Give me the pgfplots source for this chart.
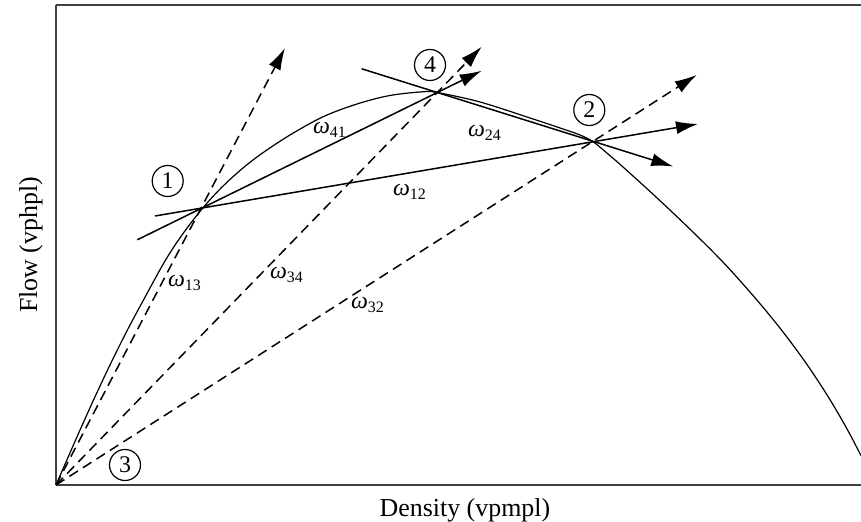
\documentclass[border=0pt]{standalone}
\usepackage{pgfplots}
\usepackage{pgfplotstable}
\pgfplotsset{compat=1.18}
\usetikzlibrary{arrows.meta}
\usepackage{fontspec}
\setmainfont{Liberation Serif}

\pgfplotstableread{
x y
0 0
10 23
24 54.9
39 88.2
55 122.1
72 156.1
90 189.6
109 224
126 250
146 276
165 296.9
185 315.3
205 330.9
234 350
267 368.2
301 381
334 389.5
367 393.2
381 392.5
424 383
474 367
507 356
524 350
537 343.3
552 331
567 318
600 288
634 255.8
668 221.8
700 186
726 154.3
750 121.9
772 88.5
790 57.9
805 29.4
}\curvedata

\tikzset{
  dsh/.style={line width=0.75bp, dash pattern=on 5bp off 3bp},
  sld/.style={line width=0.75bp},
  arr/.style={-{Latex[length=11bp,width=6.5bp]}},
  lab/.style={font=\fontsize{12}{14}\selectfont},
  circ/.style={draw, circle, line width=0.6bp, minimum size=15.5bp, inner sep=0pt, font=\fontsize{12}{14}\selectfont},
}

\begin{document}
\begin{tikzpicture}
\begin{axis}[
  scale only axis, width=402.5bp, height=240bp,
  xmin=0, xmax=805, ymin=0, ymax=480,
  axis x line*=box, axis y line*=left,
  xtick=\empty, ytick=\empty,
  axis line style={line width=1.1bp, black!75},
  clip=false,
]
\addplot[no markers, smooth, tension=0.55, line width=0.6bp] table {\curvedata};
% dashed rays from point 3
\addplot[no markers, dsh, arr] coordinates {(0,0) (229,437)};
\addplot[no markers, dsh, arr] coordinates {(0,0) (425.7,438.3)};
\addplot[no markers, dsh, arr] coordinates {(0,0) (640.7,410)};
% solid lines
\addplot[no markers, sld, arr] coordinates {(81.3,245.2) (425.7,414.3)};
\addplot[no markers, sld, arr] coordinates {(99,269) (642,361)};
\addplot[no markers, sld, arr] coordinates {(305.7,416.2) (617.3,318.5)};
% labels
\node[lab] at (axis cs:274,355) {\textit{ω}\textsubscript{41}};
\node[lab] at (axis cs:429,352) {\textit{ω}\textsubscript{24}};
\node[lab] at (axis cs:354,293) {\textit{ω}\textsubscript{12}};
\node[lab] at (axis cs:129,202) {\textit{ω}\textsubscript{13}};
\node[lab] at (axis cs:231,210) {\textit{ω}\textsubscript{34}};
\node[lab] at (axis cs:312,180) {\textit{ω}\textsubscript{32}};
\node[circ] at (axis cs:111.7,304) {1};
\node[circ] at (axis cs:374,420) {4};
\node[circ] at (axis cs:533.3,375) {2};
\node[circ] at (axis cs:69,20) {3};
% axis titles
\node[anchor=base, font=\fontsize{13}{15}\selectfont] at ([yshift=-16bp]axis description cs:0.508,0) {Density (vpmpl)};
\node[anchor=base, rotate=90, font=\fontsize{13}{15}\selectfont] at ([xshift=-9.5bp]axis description cs:0,0.5) {Flow (vphpl)};
\coordinate (bl) at (axis description cs:0,0);
\coordinate (tr) at (axis description cs:1,1);
\end{axis}
\pgfresetboundingbox
\path ([shift={(-28bp,-18.5bp)}]bl) rectangle ([shift={(0bp,2.5bp)}]tr);
\end{tikzpicture}
\end{document}
